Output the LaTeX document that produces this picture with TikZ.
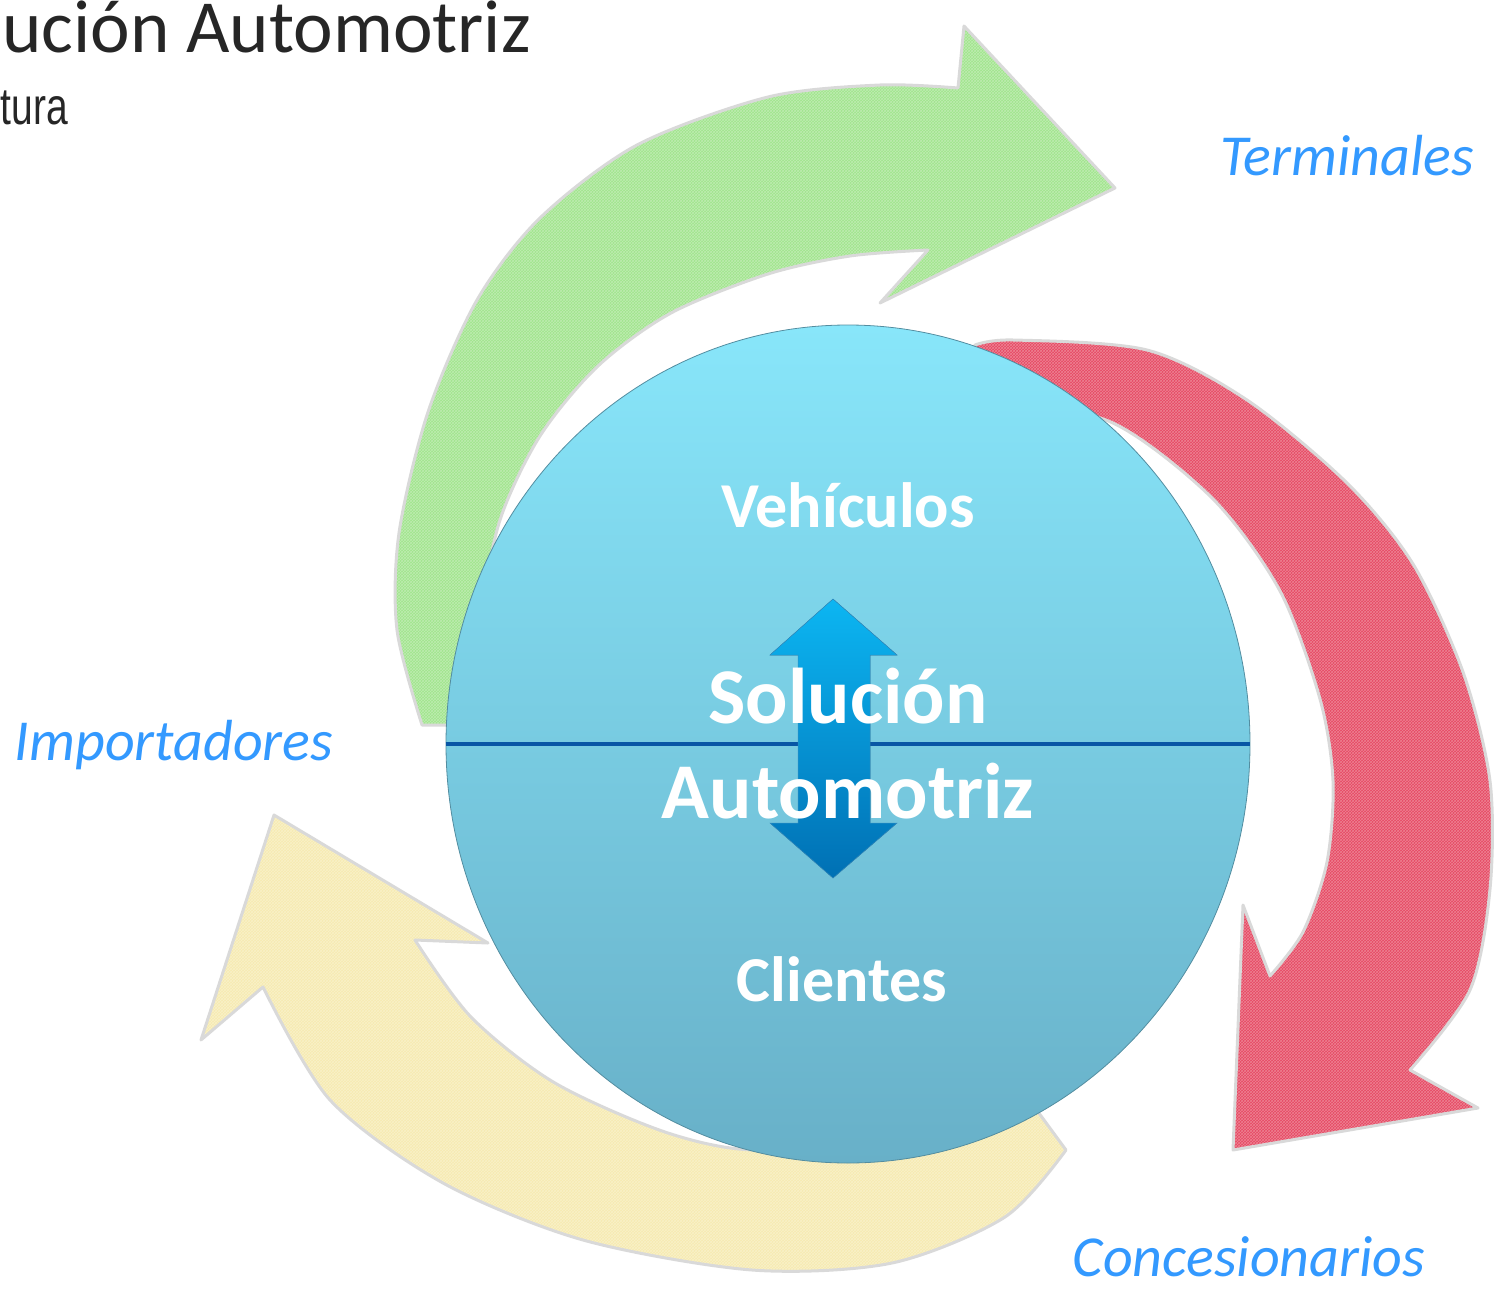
\documentclass[tikz,border=0pt]{standalone}
\usepackage{fontspec}
\setmainfont{Carlito}
\newfontfamily\narrowfont[FakeStretch=0.75]{Liberation Sans}
\usetikzlibrary{shapes.geometric,patterns}
\definecolor{grn}{RGB}{160,228,140}
\definecolor{redc}{RGB}{230,72,98}
\definecolor{yel}{RGB}{246,234,176}
\definecolor{ctop}{RGB}{136,230,250}
\definecolor{cbot}{RGB}{104,176,200}
\definecolor{divline}{RGB}{8,86,165}
\definecolor{atop}{RGB}{12,182,242}
\definecolor{abot}{RGB}{0,112,180}
\definecolor{lblue}{RGB}{51,153,255}
\definecolor{titlec}{RGB}{38,38,38}
\begin{document}
\begin{tikzpicture}[x=1pt,y=-1pt,
  sketch/.style={draw=gray!30, line width=3pt, line join=round},
  texture/.style={pattern=crosshatch, pattern color=white!100, opacity=0.3},
  inlabel/.style={text=white, font=\bfseries\fontsize{64}{70}\selectfont, inner sep=0pt},
  biglabel/.style={text=white, font=\bfseries\fontsize{79}{95}\selectfont, inner sep=0pt, anchor=base},
  outlabel/.style={text=lblue, font=\itshape\fontsize{58}{64}\selectfont, inner sep=0pt, anchor=base},
]
\useasboundingbox (0,0) rectangle (1499,1290);

% title
\node[anchor=base west, inner sep=0pt, text=titlec, font=\fontsize{75}{82}\selectfont] (title) at (2,53) {ución Automotriz};
\node[anchor=base east, inner sep=0pt, text=titlec, font=\narrowfont\fontsize{52}{56}\selectfont] (subtitle) at (68,124) {tura};

% green arrow
\def\greenpath{plot[smooth] coordinates {(422,725) (397,630) (399,533) (428,412) (477,300) (540,218) (637,145) (768,97) (880,85) (958,88)}
  -- (964,26) -- (1115,188) -- (880,303) -- (928,250)
  -- plot[smooth] coordinates {(928,250) (850,256) (768,274) (671,313) (598,366) (540,436) (500,520) (480,620) (470,725)} -- cycle}
\fill[grn] \greenpath;
\fill[texture] \greenpath;
\draw[sketch] \greenpath;

% red arrow
\def\redpath{plot[smooth] coordinates {(975,345) (1013,340) (1147,350) (1247,400) (1347,483) (1413,564) (1463,672) (1490,781) (1490,889) (1470,990) (1410,1070)}
  -- (1478,1108) -- (1233,1150) -- (1243,905) -- (1270,976)
  -- plot[smooth] coordinates {(1270,976) (1303,932) (1327,862) (1333,781) (1320,699) (1280,591) (1213,499) (1113,423) (1000,400) (960,420)} -- cycle}
\fill[redc] \redpath;
\fill[texture] \redpath;
\draw[sketch] \redpath;

% yellow arrow
\def\yelpath{(274,815) -- (488,943) -- (415,940)
  -- plot[smooth] coordinates {(415,940) (471,1017) (555,1083) (668,1133) (760,1150) (880,1130) (1000,1060)}
  -- (1066,1150)
  -- plot[smooth] coordinates {(1066,1150) (1005,1217) (892,1263) (752,1270) (583,1240) (443,1183) (330,1100) (263,987)}
  -- (201,1040) -- cycle}
\fill[yel] \yelpath;
\fill[texture] \yelpath;
\draw[sketch] \yelpath;

% central disc
\node[ellipse, minimum width=804pt, minimum height=838pt, inner sep=0pt,
      top color=ctop, bottom color=cbot, draw=cbot!80!black, line width=0.8pt] (disc) at (848,744) {};
\draw[divline, line width=3.5pt] (disc.west) -- (disc.east);

% double arrow
\fill[top color=atop, bottom color=abot, draw=abot!80!white, line width=0.5pt]
  (833,599) -- (897,655) -- (870,655) -- (870,823) -- (897,823) -- (833,878)
  -- (770,823) -- (798,823) -- (798,655) -- (770,655) -- cycle;

% inner labels
\node[inlabel] (veh) at (848,505) {Vehículos};
\node[biglabel] (sol) at (848,723) {Solución};
\node[biglabel] (auto) at (848,818) {Automotriz};
\node[inlabel, anchor=base] (cli) at (842,1001) {Clientes};

% outer labels
\node[outlabel] (term) at (1347,175) {Terminales};
\node[outlabel] (imp) at (174,760) {Importadores};
\node[outlabel] (conc) at (1249,1276) {Concesionarios};
\end{tikzpicture}
\end{document}
